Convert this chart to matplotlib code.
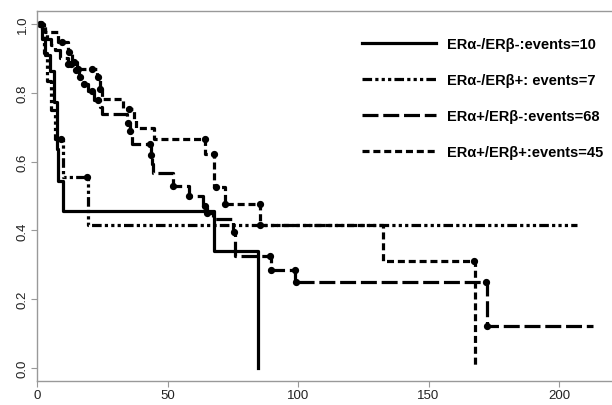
import numpy as np
import matplotlib.pyplot as plt

plt.rcParams['font.family'] = ['Liberation Sans', 'DejaVu Sans']

# survival curves: event times and survival after each step
labels = ['ERα-/ERβ-:events=10', 'ERα-/ERβ+: events=7',
          'ERα+/ERβ-:events=68', 'ERα+/ERβ+:events=45']

t_a = [0, 2, 3, 5, 6.5, 7.5, 8, 10, 68, 84.5]
s_a = [1.0, 0.955, 0.91, 0.864, 0.773, 0.636, 0.545, 0.455, 0.341, 0.0]
end_a = 84.5
cens_a = []

t_b = [0, 2.5, 4, 5.5, 7, 9.8, 19.5]
s_b = [1.0, 0.917, 0.833, 0.75, 0.667, 0.556, 0.417]
end_b = 207
cens_b = [9.2, 19.2]

t_c = [0, 2, 3, 4, 5.5, 7, 9, 12, 14, 16, 18, 19.5, 22, 24, 25, 34.5, 35.5, 36.5,
       43.5, 44, 44.5, 52, 58.2, 63.5, 65, 67.5, 75.2, 76, 89.5, 99, 172.5]
s_c = [1.0, 0.985, 0.97, 0.955, 0.94, 0.925, 0.90, 0.885, 0.865, 0.845, 0.825, 0.805,
       0.78, 0.76, 0.738, 0.712, 0.69, 0.651, 0.62, 0.593, 0.567, 0.529, 0.50, 0.47,
       0.45, 0.433, 0.395, 0.326, 0.285, 0.25, 0.122]
end_c = 213
cens_c = [1.5, 12, 13, 15, 16.5, 18, 21, 23.5, 34.8, 35.7, 43.3, 43.8, 52.2, 58.2,
          64.4, 65.2, 75.5, 89.3, 89.7, 98.9, 99.2, 172.2, 172.6]

t_d = [0, 3, 8, 12, 13.5, 15.5, 23, 24, 25, 33, 37, 38, 45, 64.5, 68, 72, 85.5,
       132.6, 168]
s_d = [1.0, 0.977, 0.948, 0.92, 0.89, 0.87, 0.846, 0.81, 0.782, 0.753, 0.725, 0.698,
       0.666, 0.622, 0.527, 0.477, 0.416, 0.311, 0.0]
end_d = 168
cens_d = [1, 9.5, 12.2, 14, 15.8, 21, 23.2, 24.2, 35.3, 64.4, 67.8, 68.6, 72.2,
          85.4, 85.6, 167.5]

styles = [
    dict(linestyle='-'),
    dict(dashes=(3, 1, 1, 1, 1, 1, 1, 1)),
    dict(dashes=(5, 1.5)),
    dict(dashes=(2.2, 1.2)),
]

fig = plt.figure(figsize=(6.12, 4.06), dpi=100)
ax = fig.add_axes([37 / 612, 24 / 406, 575 / 612, 370 / 406])

series = [(t_a, s_a, end_a, cens_a), (t_b, s_b, end_b, cens_b),
          (t_c, s_c, end_c, cens_c), (t_d, s_d, end_d, cens_d)]

for (t, s, end, cens), st, lab in zip(series, styles, labels):
    tt = list(t) + [end]
    ss = list(s) + [s[-1]]
    ax.step(tt, ss, where='post', color='black', lw=2.3, label=lab, **st)
    if cens:
        idx = np.searchsorted(t, cens, side='right') - 1
        ax.plot(cens, np.array(s)[idx], 'o', color='black', ms=4.2, ls='none')

ax.set_xlim(0, 220.3)
ax.set_ylim(-0.0378, 1.0378)
ax.set_xticks([0, 50, 100, 150, 200])
ax.set_yticks([0.0, 0.2, 0.4, 0.6, 0.8, 1.0])
ax.set_yticklabels(['0.0', '0.2', '0.4', '0.6', '0.8', '1.0'], rotation=90, va='center')
ax.tick_params(colors='#999999', labelcolor='#222222', labelsize=9.5, length=4, width=0.8, pad=2)
for sp in ['left', 'top', 'bottom']:
    ax.spines[sp].set_color('#999999')
    ax.spines[sp].set_linewidth(1.0)
ax.spines['right'].set_visible(False)

leg = ax.legend(loc='upper right', bbox_to_anchor=(1.007, 0.965), frameon=False,
                handlelength=5.1, handletextpad=0.7, labelspacing=1.5,
                prop=dict(weight='bold', size=10.5))

fig.savefig('out.png', dpi=100)
